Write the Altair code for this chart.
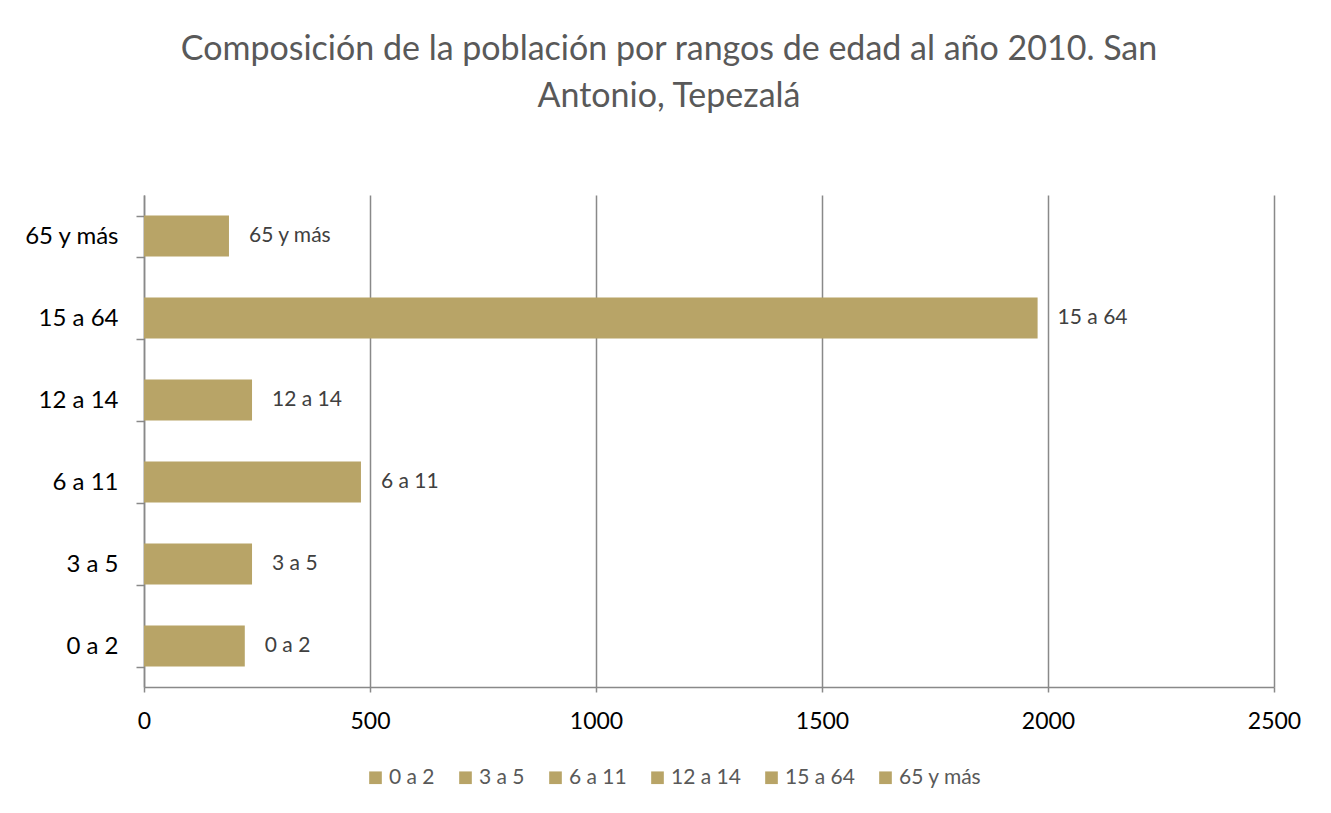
import altair as alt
import pandas as pd

categories = ["0 a 2", "3 a 5", "6 a 11", "12 a 14", "15 a 64", "65 y más"]
values = [223, 239, 480, 239, 1977, 188]
x_ticks = [0, 500, 1000, 1500, 2000, 2500]

df = pd.DataFrame({"rango": categories, "poblacion": values})

FONT = "Lato"
BAR = "#B8A467"
GRID = "#898989"

y_enc = alt.Y("rango:N", sort=list(reversed(categories)), title=None,
              scale=alt.Scale(paddingInner=0.5, paddingOuter=0.25),
              axis=alt.Axis(tickBand="extent", labelFontSize=24, labelColor="#000000",
                            labelFont=FONT, labelPadding=18, tickSize=8, tickColor=GRID,
                            domainColor=GRID, domainWidth=1.5, tickWidth=1.5, grid=False))
x_enc = alt.X("poblacion:Q", title=None,
              scale=alt.Scale(domain=[0, 2500], nice=False),
              axis=alt.Axis(values=x_ticks, format="d", labelFlush=False,
                            labelFontSize=23, labelColor="#000000",
                            labelFont=FONT, labelPadding=18, tickSize=5, tickColor=GRID,
                            domainColor=GRID, domainWidth=1.5, tickWidth=1.5,
                            grid=True, gridColor=GRID, gridWidth=1.5))

bars = alt.Chart(df).mark_bar(color=BAR).encode(
    y=y_enc, x=x_enc,
    color=alt.Color("rango:N", sort=categories, title=None,
                    scale=alt.Scale(domain=categories, range=[BAR] * len(categories)),
                    legend=alt.Legend(orient="none", direction="horizontal",
                                      legendX=221, legendY=572,
                                      symbolType="square", symbolSize=160,
                                      symbolStrokeWidth=0, symbolOpacity=1,
                                      labelFontSize=21, labelColor="#595959",
                                      labelFont=FONT, labelOffset=3,
                                      columnPadding=20))
)

labels = alt.Chart(df).mark_text(align="left", baseline="middle", dx=20,
                                 fontSize=21, color="#404040", font=FONT).encode(
    y=alt.Y("rango:N", sort=list(reversed(categories))),
    x=alt.X("poblacion:Q"),
    text="rango:N",
)

chart = (bars + labels).properties(
    width=1130, height=492,
    title=alt.TitleParams(
        text=["Composición de la población por rangos de edad al año 2010. San",
              "Antonio, Tepezalá"],
        fontSize=34, font=FONT, fontWeight="normal", color="#595959",
        anchor="middle", dx=-40, offset=69, lineHeight=47),
    autosize=alt.AutoSizeParams(type="none"),
    padding={"left": 136, "top": 187, "right": 49, "bottom": 118},
).configure_view(stroke=None)

chart.save("out.html", embed_options={"renderer": "svg", "actions": False})
